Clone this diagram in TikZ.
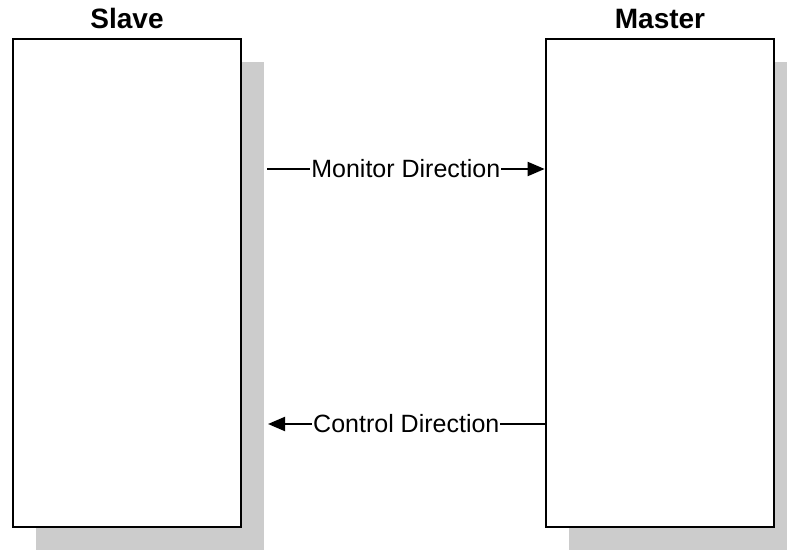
\documentclass[tikz,border=0pt]{standalone}
\usepackage{fontspec}
\setmainfont{Liberation Sans}
\usetikzlibrary{arrows.meta,positioning,shadows}

\begin{document}
\begin{tikzpicture}[x=1pt,y=1pt,line width=2pt,
  unit/.style={draw,line width=2.7pt,fill=white,inner sep=0pt,
    minimum width=228pt,minimum height=488pt,
    drop shadow={shadow xshift=23pt,shadow yshift=-23pt,fill=black!20,opacity=1}},
  title/.style={font=\fontsize{28}{32}\selectfont\bfseries,anchor=base},
  flow/.style={font=\fontsize{25}{30}\selectfont,fill=white,inner sep=1pt},
  tip/.style={-{Triangle[length=17pt,width=14pt]}}]
  \useasboundingbox (0,0) rectangle (787,549);
  \clip (0,0) rectangle (787,549);

  \node[unit] (slave) at (127,266) {};
  \node[unit] (master) at (660,266) {};
  \node[title] (slave-title) at ([yshift=9pt]slave.north) {Slave};
  \node[title] (master-title) at ([yshift=9pt]master.north) {Master};

  % the two directions
  \coordinate (mon-start) at (267,380);
  \coordinate (ctl-end) at (268,125);
  \draw[tip] (mon-start) -- (master.west |- mon-start)
    node[flow,midway] (mon-label) {Monitor Direction};
  \draw[tip] (master.west |- ctl-end) -- (ctl-end)
    node[flow,midway] (ctl-label) {Control Direction};
\end{tikzpicture}
\end{document}
